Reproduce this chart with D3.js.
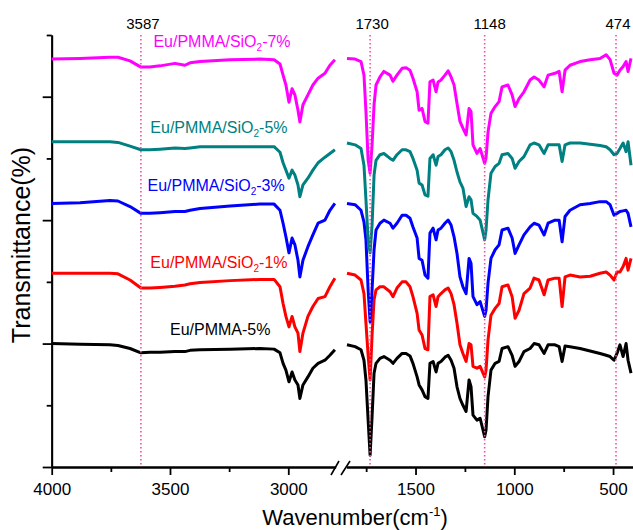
<!DOCTYPE html>
<html>
<head>
<meta charset="utf-8">
<style>
  body { margin: 0; background: #fff; }
  svg { font-family: "Liberation Sans", Arial, sans-serif; }
</style>
</head>
<body>
<svg width="633" height="530"></svg>
<script src="https://cdn.jsdelivr.net/npm/d3@7/dist/d3.min.js"></script>
<script>

// wavenumber grids for the two parts of the broken axis
const wnLeft = [4000,3880,3754,3720,3669,3623,3585,3542,3479,3437,3415,3373,3246,3120,3060,3035,3022,3010,2997,2984,2972,2959,2951,2938,2917,2896,2874,2845,2824,2803];
const wnRight = [1847,1806,1776,1761,1751,1740,1730,1720,1710,1700,1680,1660,1629,1614,1594,1568,1548,1528,1513,1492,
  1482,1467,1452,1437,1427,1411,1396,1386,1371,1351,1335,1320,1305,1290,1275,1260,1244,1229,1219,1209,
  1189,1173,1150,1143,1133,1118,1097,1077,1062,1032,1011,996,976,951,920,900,875,849,829,794,
  773,758,743,718,667,616,566,535,515,495,480,465,449,434,424,409];

// transmittance (offset, a.u.)
const sio2_7_left = [66.1,66.2,66.4,66.4,65.8,64.8,64.8,65.0,65.4,65.1,65.5,65.7,66.0,66.1,66.0,65.3,63.5,61.9,59.1,61.3,60.3,57.8,55.9,58.7,60.3,61.9,63.0,63.8,65.1,66.0];
const sio2_7_right = [66.2,66.1,65.7,63.5,57.6,49.7,47.6,52.2,58.7,61.9,63.2,64.1,63.5,62.5,63.5,64.6,64.7,64.3,63.0,60.8,
  57.8,58.1,56.0,55.7,62.4,62.7,60.8,62.4,62.7,63.5,64.2,63.2,61.9,58.9,56.0,54.9,53.8,58.1,57.6,52.2,
  50.8,51.6,49.2,50.1,54.3,57.3,58.4,59.2,61.6,61.9,60.3,58.4,59.7,60.8,62.7,63.2,62.7,61.6,63.5,63.8,
  64.1,60.8,64.3,65.1,65.7,66.0,66.2,66.8,66.0,63.8,63.5,64.3,64.9,65.7,64.1,66.2];

const sio2_5_left = [52.7,52.7,52.7,52.6,52.0,51.4,51.4,51.5,51.7,51.6,51.7,51.9,51.9,51.9,51.9,51.0,49.3,48.1,46.8,48.1,47.3,45.7,43.8,45.7,46.8,48.1,49.3,50.2,50.8,51.4];
const sio2_5_right = [52.5,52.2,51.6,48.9,43.3,36.8,34.7,39.2,47.3,49.7,50.6,50.8,50.0,49.7,50.6,51.4,51.4,51.1,50.0,48.1,
  46.0,45.7,44.1,43.9,50.0,50.6,48.9,50.3,50.6,51.4,51.7,51.1,49.7,47.8,46.2,45.2,42.2,43.8,43.3,41.1,
  40.6,40.0,36.8,38.4,43.3,47.6,48.7,49.2,50.6,50.8,50.0,48.4,49.5,50.3,52.2,52.5,52.2,50.8,52.2,52.2,
  52.2,49.5,52.2,52.5,52.5,52.3,52.1,51.9,51.4,50.6,50.8,51.6,52.5,51.1,52.7,48.9];

const sio2_3_left = [42.7,42.8,43.2,43.1,42.2,41.1,41.1,41.2,41.4,41.4,41.6,41.9,42.3,42.6,42.6,41.6,39.5,37.3,34.7,37.1,36.0,33.5,30.8,33.5,35.7,37.6,39.5,40.0,41.6,42.7];
const sio2_3_right = [42.7,42.5,41.6,39.7,36.8,28.7,23.5,28.7,35.2,38.4,39.5,40.0,39.5,38.7,39.5,40.8,40.8,40.3,38.9,37.1,
  33.8,33.5,31.1,30.6,37.9,38.7,36.8,38.4,38.7,39.5,40.0,39.2,37.3,34.6,30.8,29.2,28.1,33.8,33.0,27.6,
  26.3,26.8,24.4,25.4,29.8,33.8,35.2,36.0,38.4,38.7,37.1,34.6,36.0,37.6,38.9,39.5,39.2,37.6,39.5,40.0,
  40.0,36.5,40.6,41.6,42.5,42.7,43.0,43.0,42.5,40.8,41.1,41.4,41.5,41.6,41.1,38.9];

const sio2_1_left = [31.4,31.4,31.4,31.3,30.3,29.0,29.0,29.1,29.3,29.5,29.7,29.9,30.2,30.4,30.4,29.2,26.5,24.4,22.7,24.4,22.7,21.7,18.7,21.7,24.4,26.0,27.3,27.6,29.2,30.6];
const sio2_1_right = [31.4,31.1,30.3,28.1,23.3,18.1,14.1,21.4,27.1,28.7,29.2,29.2,28.4,27.6,29.0,30.0,30.0,29.2,27.6,24.9,
  22.2,21.4,19.2,19.0,27.6,27.9,26.0,27.6,28.1,28.7,29.0,28.1,26.3,23.3,19.8,18.4,17.1,20.0,19.8,16.3,
  16.0,16.3,14.6,15.7,20.6,24.6,25.7,26.5,29.2,29.5,27.6,24.1,25.4,28.1,29.0,30.6,30.3,27.9,30.3,30.6,
  30.6,26.0,30.8,31.1,30.8,30.9,31.4,31.6,31.1,30.3,31.6,31.6,32.5,33.8,31.9,33.8];

const pmma5_left = [20.0,19.9,19.8,19.7,19.2,18.5,18.6,18.6,18.7,18.7,18.9,19.0,19.1,19.2,19.1,18.5,16.8,15.7,13.8,15.4,14.1,13.3,11.1,13.3,14.6,16.0,16.8,17.3,18.1,19.0];
const pmma5_right = [19.8,19.5,19.0,17.3,14.1,7.6,1.9,8.2,15.2,16.8,17.6,17.9,17.3,16.8,17.6,18.4,18.4,18.0,16.8,14.6,
  13.3,12.5,11.4,11.1,16.8,17.1,15.4,16.8,17.1,17.8,18.1,17.3,16.0,13.0,11.1,10.0,9.0,14.1,13.0,8.4,
  7.6,7.9,4.9,6.0,11.4,15.7,16.8,17.1,19.2,19.5,18.1,16.3,17.1,18.7,19.2,20.0,19.8,18.4,19.8,19.8,
  19.5,17.1,19.6,19.5,19.2,18.8,18.4,18.1,17.9,17.3,18.4,19.8,17.9,20.0,17.3,15.2];

const seriesNames = ["Eu/PMMA-5%", "Eu/PMMA/SiO2-1%", "Eu/PMMA/SiO2-3%", "Eu/PMMA/SiO2-5%", "Eu/PMMA/SiO2-7%"];
const seriesColors = ["#000000", "#ff0000", "#0000ff", "#008080", "#ff00ff"];
const seriesLeft = [pmma5_left, sio2_1_left, sio2_3_left, sio2_5_left, sio2_7_left];
const seriesRight = [pmma5_right, sio2_1_right, sio2_3_right, sio2_5_right, sio2_7_right];
// where each label sits: wavenumber (left part) and transmittance
const labelWn = [3500, 3583, 3595, 3583, 3570];
const labelVal = [21.4, 32.2, 44.7, 54.1, 68.1];

const peakWn = [3623, 1730, 1150, 485];
const peakLabels = ["3587", "1730", "1148", "474"];

const ticksLeft = [4000, 3500, 3000];
const minorLeft = [3750, 3250];
const ticksRight = [1500, 1000, 500];
const minorRight = [1750, 1250, 750];

const svg = d3.select("svg");

const xL = d3.scaleLinear().domain([4000, 2800]).range([51.7, 335.6]);
const xR = d3.scaleLinear().domain([1850, 400]).range([346.4, 632.8]);
const y = d3.scaleLinear().domain([0, 70]).range([467, 35]);
const y0 = y(0);

// axes
function styleAxis(g) {
  g.selectAll("path, line").attr("stroke", "#000").attr("stroke-width", 1.8);
  g.selectAll("text").attr("font-size", "17px").attr("fill", "#000")
    .attr("font-family", '"Liberation Sans", Arial, sans-serif');
}
[[xL, ticksLeft, minorLeft], [xR, ticksRight, minorRight]].forEach(([sc, maj, min]) => {
  svg.append("g").attr("transform", "translate(0," + y0 + ")")
    .call(d3.axisBottom(sc).tickValues(maj).tickFormat(d3.format("d")).tickSize(8).tickSizeOuter(0).tickPadding(8))
    .call(styleAxis);
  svg.append("g").attr("transform", "translate(0," + y0 + ")")
    .call(d3.axisBottom(sc).tickValues(min).tickFormat("").tickSize(5).tickSizeOuter(0))
    .call(styleAxis);
});
svg.append("g").attr("transform", "translate(51.7,0)")
  .call(d3.axisLeft(y).tickValues([0, 20, 40, 60]).tickFormat("").tickSize(9).tickSizeOuter(0))
  .call(styleAxis);
svg.append("g").attr("transform", "translate(51.7,0)")
  .call(d3.axisLeft(y).tickValues([10, 30, 50, 70]).tickFormat("").tickSize(5).tickSizeOuter(0))
  .call(styleAxis);

// break marks
[[331, 339], [341, 350]].forEach(([a, b]) => {
  svg.append("line").attr("x1", a).attr("y1", y0 + 8).attr("x2", b).attr("y2", y0 - 6)
    .attr("stroke", "#000").attr("stroke-width", 1.6);
});

// spectra
const lineL = d3.line().x((d, i) => xL(wnLeft[i])).y(d => y(d));
const lineR = d3.line().x((d, i) => xR(wnRight[i])).y(d => y(d));
seriesNames.forEach((name, s) => {
  svg.append("path").datum(seriesLeft[s]).attr("d", lineL)
    .attr("fill", "none").attr("stroke", seriesColors[s]).attr("stroke-width", 3).attr("stroke-linejoin", "round");
  svg.append("path").datum(seriesRight[s]).attr("d", lineR)
    .attr("fill", "none").attr("stroke", seriesColors[s]).attr("stroke-width", 3).attr("stroke-linejoin", "round");
});

// peak markers
const peakX = w => (w > 2000 ? xL(w) : xR(w));
peakWn.forEach((w, i) => {
  svg.append("line").attr("x1", peakX(w)).attr("x2", peakX(w)).attr("y1", y(70)).attr("y2", y0)
    .attr("stroke", "#ff4aa5").attr("stroke-width", 1.6).attr("stroke-dasharray", "1.6,2.4");
  svg.append("text").attr("x", peakX(w) + (i === 2 ? 5 : 2)).attr("y", 29)
    .attr("text-anchor", "middle").attr("font-size", "15px").text(peakLabels[i]);
});

// series labels with subscript
seriesNames.forEach((name, s) => {
  const t = svg.append("text").attr("x", xL(labelWn[s])).attr("y", y(labelVal[s]))
    .attr("fill", seriesColors[s]).attr("font-size", "16px");
  const m = name.match(/^(.*SiO)2(.*)$/);
  if (m) {
    t.append("tspan").text(m[1]);
    t.append("tspan").attr("font-size", "10px").attr("dy", 4).text("2");
    t.append("tspan").attr("dy", -4).text(m[2]);
  } else {
    t.text(name);
  }
});

// axis titles
const xt = svg.append("text").attr("x", 355).attr("y", 525).attr("text-anchor", "middle").attr("font-size", "22px");
xt.append("tspan").text("Wavenumber(cm");
xt.append("tspan").attr("font-size", "13px").attr("dy", -9).text("-1");
xt.append("tspan").attr("dy", 9).text(")");

svg.append("text").attr("transform", "translate(30,245) rotate(-90)")
  .attr("text-anchor", "middle").attr("font-size", "25px").text("Transmittance(%)");

</script>
</body>
</html>
